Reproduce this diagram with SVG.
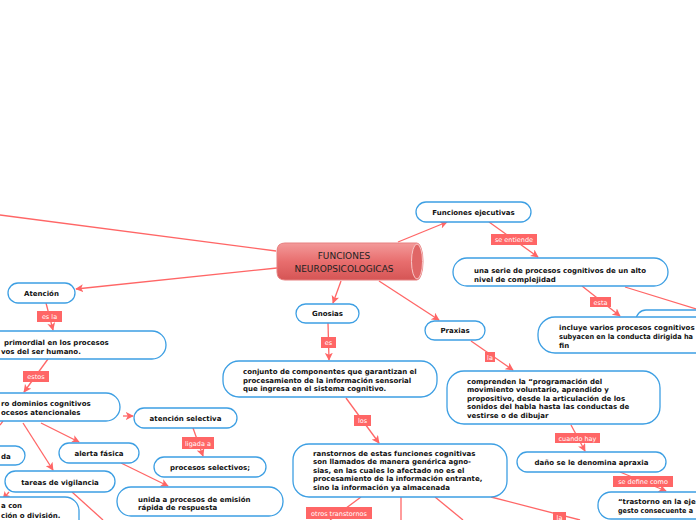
<svg xmlns="http://www.w3.org/2000/svg" width="696" height="520" viewBox="0 0 696 520">
<defs>
<linearGradient id="cyl" x1="0" y1="0" x2="0" y2="1">
<stop offset="0" stop-color="#f39a9a"/>
<stop offset="0.5" stop-color="#e86e6e"/>
<stop offset="1" stop-color="#d55555"/>
</linearGradient>
<marker id="ah" viewBox="0 0 10 10" refX="9" refY="5" markerWidth="8" markerHeight="8" markerUnits="userSpaceOnUse" orient="auto">
<path d="M0,0 L10,5 L0,10 L2.5,5 z" fill="#ff6666"/>
</marker>
<style>
.n rect{fill:#fff;stroke:#3d9fe3;stroke-width:1.3}
.t{font-family:"DejaVu Sans",Verdana,sans-serif;font-size:7px;font-weight:bold;fill:#111}
.c{text-anchor:middle}
.l{stroke:#ff6666;stroke-width:1.3;fill:none}
.a{marker-end:url(#ah)}
.lb rect{fill:#ff6666}
.lb text{font-family:"DejaVu Sans",Verdana,sans-serif;font-size:6.5px;fill:#fff}
</style>
</defs>
<rect width="696" height="520" fill="#fff"/>

<g id="connectors">
<path class="l" d="M276,251 L0,215"/>
<path class="l a" d="M277,268 L76,289"/>
<path class="l a" d="M341,281 L333,303"/>
<path class="l a" d="M398,242 L447,222"/>
<path class="l a" d="M379,281 L439,320"/>
<path class="l a" d="M489,222 L538,257"/>
<path class="l a" d="M582,286 L620,316"/>
<path class="l" d="M625,287 L696,309"/>
<path class="l a" d="M328,323 L329,360"/>
<path class="l a" d="M346,398 L379,443"/>
<path class="l a" d="M471,341 L513,370"/>
<path class="l a" d="M571,425 L585,451"/>
<path class="l a" d="M620,472 L666,491"/>
<path class="l" d="M361,497 L330,520"/>
<path class="l" d="M401,497 L401,520"/>
<path class="l" d="M435,497 L463,520"/>
<path class="l" d="M491,497 L580,520"/>
<path class="l a" d="M46,303 L53,330"/>
<path class="l a" d="M48,359 L24,392"/>
<path class="l a" d="M123,416 L133,416"/>
<path class="l a" d="M193,428 L203,456"/>
<path class="l a" d="M41,423 L79,442"/>
<path class="l a" d="M23,423 L53,470"/>
<path class="l" d="M3,421 L0,425"/>
<path class="l a" d="M121,463 L168,486"/>
<path class="l" d="M72,492 L103,520"/>
<path class="l a" d="M9,492 L3,499"/>
<g class="lb">
<rect x="491" y="234" width="46" height="11"/><text x="514" y="242" text-anchor="middle">se entiende</text>
<rect x="590" y="297" width="21" height="10"/><text x="600.5" y="304.5" text-anchor="middle">esta</text>
<rect x="321" y="337" width="15" height="11"/><text x="328.5" y="345" text-anchor="middle">es</text>
<rect x="354" y="415" width="17" height="11"/><text x="362.5" y="423" text-anchor="middle">los</text>
<rect x="485" y="352" width="10" height="10"/><text x="490" y="359.5" text-anchor="middle">la</text>
<rect x="555" y="433" width="45" height="10"/><text x="577.5" y="440.5" text-anchor="middle">cuando hay</text>
<rect x="613" y="476" width="60" height="11"/><text x="643" y="484" text-anchor="middle">se define como</text>
<rect x="306" y="507" width="66" height="12"/><text x="339" y="515.5" text-anchor="middle">otros transtornos</text>
<rect x="553" y="512" width="13" height="10"/><text x="559.5" y="519.5" text-anchor="middle">la</text>
<rect x="37" y="311" width="25" height="11"/><text x="49.5" y="319" text-anchor="middle">es la</text>
<rect x="23" y="371" width="26" height="11"/><text x="36" y="379" text-anchor="middle">estos</text>
<rect x="182" y="437" width="32" height="12"/><text x="198" y="445.5" text-anchor="middle">ligada a</text>
</g>
</g>

<g id="center">
<path d="M285,243 H417 A6,18.5 0 0 1 417,280 H285 Q277,280 277,272 V251 Q277,243 285,243 Z" fill="url(#cyl)" stroke="#e78080" stroke-width="1"/>
<ellipse cx="417" cy="261.5" rx="5.5" ry="17.5" fill="#e06666" stroke="#f8c8c8" stroke-width="1"/>
<text x="344" y="258.5" text-anchor="middle" font-family="DejaVu Sans, Verdana, sans-serif" font-size="9" fill="#222">FUNCIONES</text>
<text x="344" y="271.5" text-anchor="middle" font-family="DejaVu Sans, Verdana, sans-serif" font-size="9" fill="#222">NEUROPSICOLOGICAS</text>
</g>

<g id="funciones-ejecutivas" class="n"><rect x="416" y="202" width="115" height="20" rx="10"/><text class="t c" x="473.5" y="214.5">Funciones ejecutivas</text></g>
<g id="una-serie" class="n"><rect x="453" y="258" width="215" height="28" rx="14"/><text class="t" x="474" y="273">una serie de procesos cognitivos de un alto</text><text class="t" x="474" y="281.5">nivel de complejidad</text></g>
<g id="oculto" class="n"><rect x="636" y="310" width="200" height="40" rx="10"/></g>
<g id="incluye" class="n"><rect x="538" y="317" width="250" height="36" rx="17"/><text class="t" x="559" y="330">incluye varios procesos cognitivos</text><text class="t" x="559" y="339" textLength="134" lengthAdjust="spacingAndGlyphs">subyacen en la conducta dirigida ha</text><text class="t" x="559" y="347.5">fin</text></g>
<g id="gnosias" class="n"><rect x="296" y="304" width="63" height="19" rx="9.5"/><text class="t c" x="327.5" y="316">Gnosias</text></g>
<g id="conjunto" class="n"><rect x="223" y="361" width="214" height="36" rx="16"/><text class="t" x="243" y="374">conjunto de componentes que garantizan el</text><text class="t" x="243" y="382.5">procesamiento de la información sensorial</text><text class="t" x="243" y="391">que ingresa en el sistema cognitivo.</text></g>
<g id="trastornos" class="n"><rect x="293" y="444" width="214" height="53" rx="16"/><text class="t" x="313" y="455.5">ranstornos de estas funciones cognitivas</text><text class="t" x="313" y="464">son llamados de manera genérica agno-</text><text class="t" x="313" y="472.5">sias, en las cuales lo afectado no es el</text><text class="t" x="313" y="481">procesamiento de la información entrante,</text><text class="t" x="313" y="489.5">sino la información ya almacenada</text></g>
<g id="praxias" class="n"><rect x="425" y="321" width="60" height="19" rx="9.5"/><text class="t c" x="455" y="333">Praxias</text></g>
<g id="comprenden" class="n"><rect x="447" y="371" width="213" height="53" rx="17"/><text class="t" x="467" y="383.5">comprenden la “programación del</text><text class="t" x="467" y="392">movimiento voluntario, aprendido y</text><text class="t" x="467" y="400.5">propositivo, desde la articulación de los</text><text class="t" x="467" y="409">sonidos del habla hasta las conductas de</text><text class="t" x="467" y="417.5">vestirse o de dibujar</text></g>
<g id="dano" class="n"><rect x="517" y="452" width="149" height="20" rx="10"/><text class="t c" x="591.5" y="464.5">daño se le denomina apraxia</text></g>
<g id="trastorno-ejecucion" class="n"><rect x="598" y="492" width="200" height="27" rx="13"/><text class="t" x="618" y="504">“trastorno en la eje</text><text class="t" x="618" y="512.5" textLength="75" lengthAdjust="spacingAndGlyphs">gesto consecuente a</text></g>
<g id="atencion" class="n"><rect x="8" y="283" width="67" height="20" rx="10"/><text class="t c" x="41.5" y="295.5">Atención</text></g>
<g id="primordial" class="n"><rect x="-100" y="331" width="266" height="28" rx="14"/><text class="t" x="4" y="345">primordial en los procesos</text><text class="t" x="1" y="353.5">vos del ser humano.</text></g>
<g id="cuatro" class="n"><rect x="-100" y="393" width="220" height="28" rx="14"/><text class="t" x="1" y="406">ro dominios cognitivos</text><text class="t" x="1" y="414.5">ocesos atencionales</text></g>
<g id="atencion-selectiva" class="n"><rect x="134" y="408" width="103" height="20" rx="10"/><text class="t c" x="185.5" y="420.5">atención selectiva</text></g>
<g id="procesos-selectivos" class="n"><rect x="154" y="457" width="112" height="20" rx="10"/><text class="t c" x="210" y="469.5">procesos selectivos;</text></g>
<g id="alerta-fasica" class="n"><rect x="59" y="443" width="80" height="20" rx="10"/><text class="t c" x="99" y="455.5">alerta fásica</text></g>
<g id="sostenida" class="n"><rect x="-60" y="446" width="85" height="19" rx="9.5"/><text class="t" x="1" y="458.5">da</text></g>
<g id="tareas-vigilancia" class="n"><rect x="5" y="471" width="110" height="21" rx="10.5"/><text class="t c" x="60" y="484.5">tareas de vigilancia</text></g>
<g id="unida" class="n"><rect x="117" y="487" width="166" height="29" rx="14"/><text class="t" x="138" y="501.5">unida a procesos de emisión</text><text class="t" x="138" y="510">rápida de respuesta</text></g>
<g id="division" class="n"><rect x="-100" y="497" width="179" height="40" rx="14"/><text class="t" x="1" y="508">a con</text><text class="t" x="1" y="517.5">ción o división.</text></g>
</svg>
